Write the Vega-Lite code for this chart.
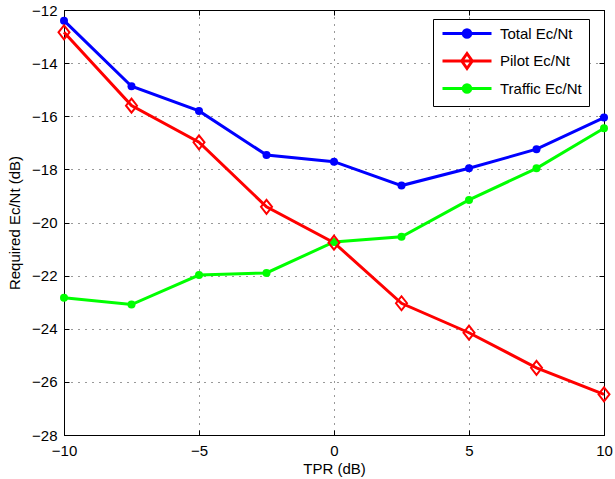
{
  "$schema": "https://vega.github.io/schema/vega-lite/v6.json",
  "width": 540,
  "height": 425,
  "autosize": {"type": "none"},
  "padding": {"left": 64, "top": 10, "right": 11, "bottom": 44},
  "background": "white",
  "config": {
    "view": {"stroke": "black", "strokeWidth": 1},
    "font": "Liberation Sans",
    "axis": {
      "labelFont": "Liberation Sans", "labelFontSize": 15, "labelColor": "black", "labelFlush": false,
      "titleFont": "Liberation Sans", "titleFontSize": 15, "titleFontWeight": "normal", "titleColor": "black",
      "domainColor": "black", "tickColor": "black", "gridColor": "black", "gridDash": [1, 6], "gridOpacity": 0.8
    }
  },
  "data": {"values": [
    {"tpr": -10, "series": "Total", "value": -12.40},
    {"tpr": -7.5, "series": "Total", "value": -14.87},
    {"tpr": -5, "series": "Total", "value": -15.80},
    {"tpr": -2.5, "series": "Total", "value": -17.46},
    {"tpr": 0, "series": "Total", "value": -17.71},
    {"tpr": 2.5, "series": "Total", "value": -18.61},
    {"tpr": 5, "series": "Total", "value": -17.96},
    {"tpr": 7.5, "series": "Total", "value": -17.24},
    {"tpr": 10, "series": "Total", "value": -16.05},
    {"tpr": -10, "series": "Pilot", "value": -12.84},
    {"tpr": -7.5, "series": "Pilot", "value": -15.60},
    {"tpr": -5, "series": "Pilot", "value": -16.98},
    {"tpr": -2.5, "series": "Pilot", "value": -19.41},
    {"tpr": 0, "series": "Pilot", "value": -20.76},
    {"tpr": 2.5, "series": "Pilot", "value": -23.04},
    {"tpr": 5, "series": "Pilot", "value": -24.15},
    {"tpr": 7.5, "series": "Pilot", "value": -25.47},
    {"tpr": 10, "series": "Pilot", "value": -26.47},
    {"tpr": -10, "series": "Traffic", "value": -22.83},
    {"tpr": -7.5, "series": "Traffic", "value": -23.09},
    {"tpr": -5, "series": "Traffic", "value": -21.98},
    {"tpr": -2.5, "series": "Traffic", "value": -21.90},
    {"tpr": 0, "series": "Traffic", "value": -20.73},
    {"tpr": 2.5, "series": "Traffic", "value": -20.54},
    {"tpr": 5, "series": "Traffic", "value": -19.15},
    {"tpr": 7.5, "series": "Traffic", "value": -17.96},
    {"tpr": 10, "series": "Traffic", "value": -16.45}
  ]},
  "resolve": {"axis": {"x": "independent", "y": "independent"}},
  "layer": [
    {
      "mark": {"type": "line", "strokeWidth": 3},
      "encoding": {
        "x": {"field": "tpr", "type": "quantitative", "scale": {"domain": [-10, 10], "nice": false},
          "axis": {"orient": "bottom", "title": "TPR (dB)", "values": [-10, -5, 0, 5, 10], "tickSize": -5, "labelPadding": 13, "titlePadding": 3, "grid": true, "domain": true}},
        "y": {"field": "value", "type": "quantitative", "scale": {"domain": [-28, -12], "nice": false, "zero": false},
          "axis": {"orient": "left", "title": "Required Ec/Nt (dB)", "values": [-28, -26, -24, -22, -20, -18, -16, -14, -12], "tickSize": -5, "labelPadding": 12, "titlePadding": 9, "grid": true, "domain": true}},
        "color": {"field": "series", "type": "nominal",
          "scale": {"domain": ["Total", "Pilot", "Traffic"], "range": ["#0000ff", "#ff0000", "#00ff00"]},
          "legend": {
            "title": null, "orient": "none", "legendX": 369, "legendY": 9,
            "fillColor": "white", "strokeColor": "black", "cornerRadius": 0, "padding": 7,
            "labelFont": "Liberation Sans", "labelFontSize": 15, "labelColor": "black",
            "symbolSize": 100, "labelOffset": 45, "rowPadding": 3.5,
            "labelExpr": "datum.label + ' Ec/Nt'",
            "encode": {"symbols": {"update": {
              "shape": {"signal": "datum.value === 'Pilot' ? 'M-1,0H8.8M3.9,-1.5L4.95,0L3.9,1.5L2.85,0Z' : 'M-1,0H8.8M3.15,0A0.75,0.75 0 1,0 4.65,0A0.75,0.75 0 1,0 3.15,0Z'"},
              "fill": {"signal": "datum.value === 'Total' ? '#0000ff' : datum.value === 'Traffic' ? '#00ff00' : '#ffffff'"},
              "stroke": {"signal": "datum.value === 'Total' ? '#0000ff' : datum.value === 'Traffic' ? '#00ff00' : '#ff0000'"},
              "strokeWidth": {"value": 3},
              "opacity": {"value": 1},
              "fillOpacity": {"signal": "datum.value === 'Pilot' ? 0 : 1"}
            }}}
          }}
      }
    },
    {
      "transform": [{"filter": "datum.series !== 'Pilot'"}],
      "mark": {"type": "point", "filled": true, "shape": "circle", "size": 64, "opacity": 1},
      "encoding": {
        "x": {"field": "tpr", "type": "quantitative", "axis": null},
        "y": {"field": "value", "type": "quantitative", "axis": null},
        "color": {"field": "series", "type": "nominal"}
      }
    },
    {
      "transform": [{"filter": "datum.series === 'Pilot'"}],
      "mark": {"type": "point", "filled": false, "shape": "M0,-1.4L1.1,0L0,1.4L-1.1,0Z", "size": 100, "strokeWidth": 2, "opacity": 1},
      "encoding": {
        "x": {"field": "tpr", "type": "quantitative",
          "axis": {"orient": "top", "title": null, "labels": false, "values": [-10, -5, 0, 5, 10], "tickSize": -5, "grid": false, "domain": true}},
        "y": {"field": "value", "type": "quantitative",
          "axis": {"orient": "right", "title": null, "labels": false, "values": [-28, -26, -24, -22, -20, -18, -16, -14, -12], "tickSize": -5, "grid": false, "domain": true}},
        "color": {"field": "series", "type": "nominal"}
      }
    }
  ]
}
